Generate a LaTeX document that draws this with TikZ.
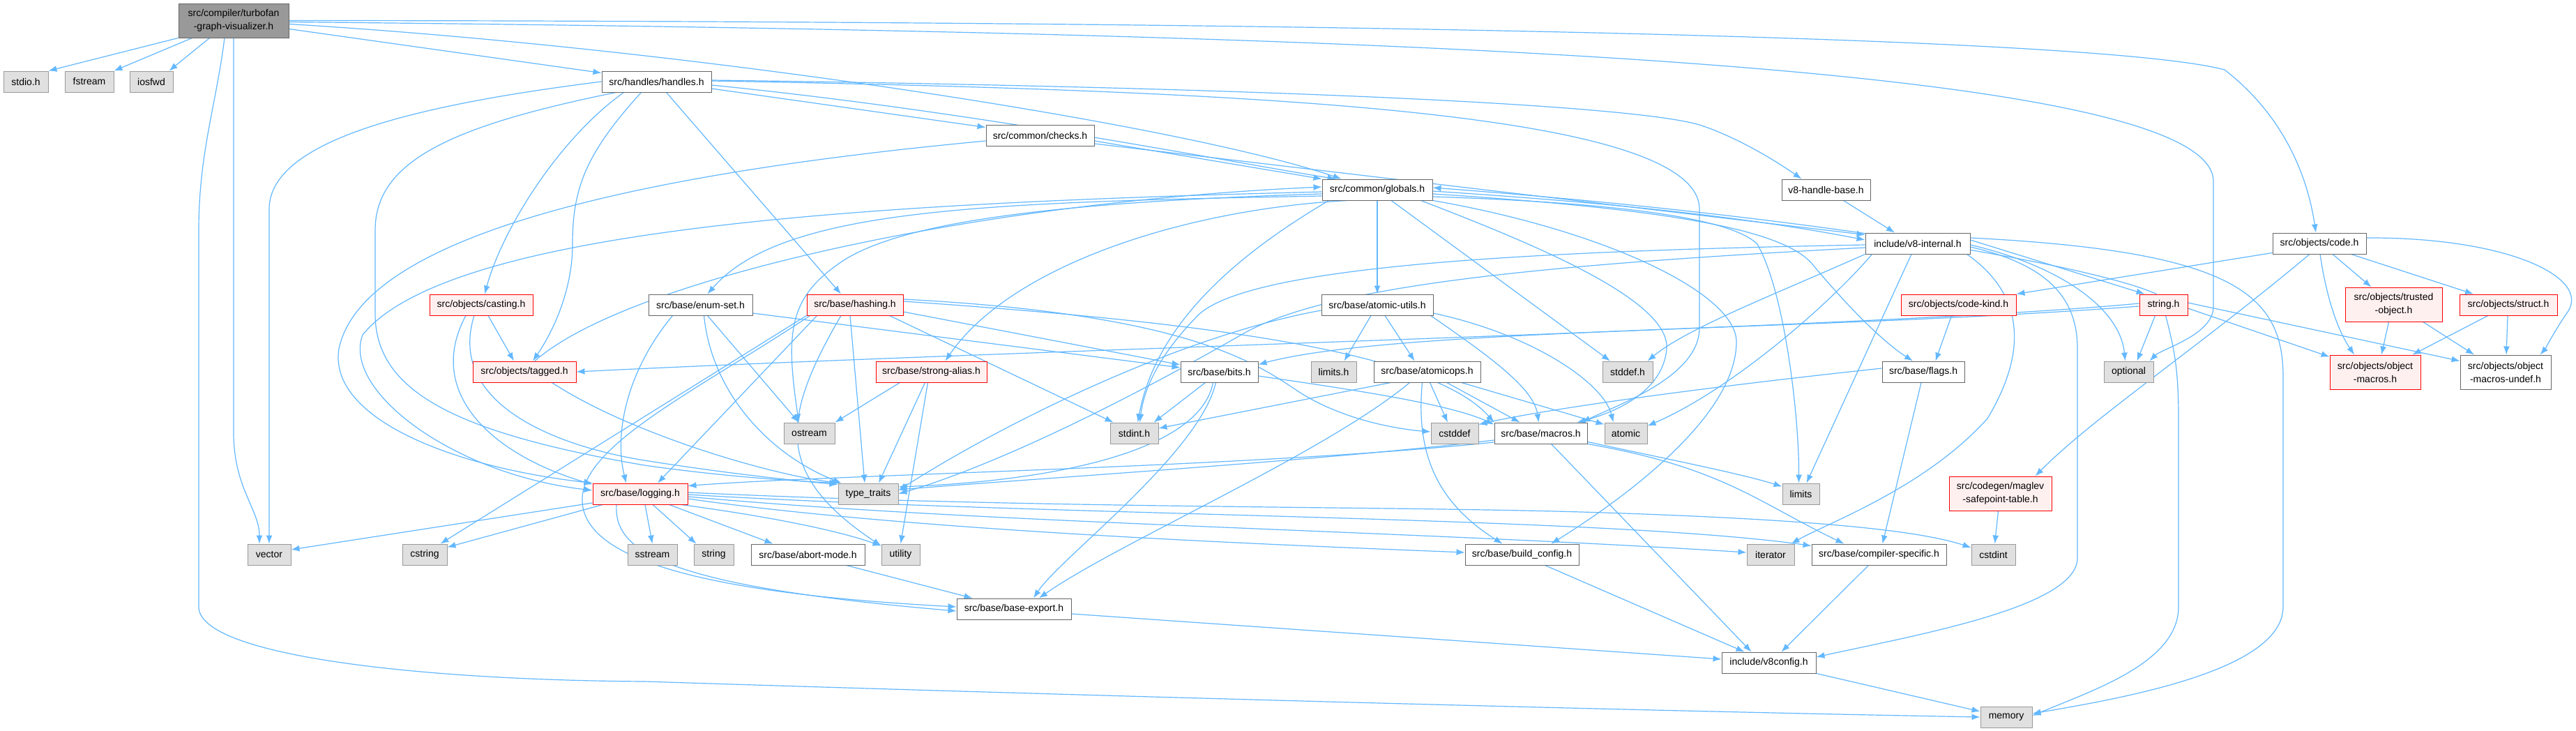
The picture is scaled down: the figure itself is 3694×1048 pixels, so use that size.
\documentclass[tikz,border=0pt]{standalone}
\usepackage{fontspec}
\setmainfont{Liberation Sans}
\usetikzlibrary{arrows.meta,calc}
\pgfdeclarelayer{bg}
\pgfsetlayers{bg,main}
\definecolor{edgec}{HTML}{63B8FF}
\definecolor{gfill}{HTML}{E0E0E0}
\definecolor{gdraw}{HTML}{999999}
\definecolor{rfill}{HTML}{FFF0F0}
\definecolor{rdraw}{HTML}{FF0000}
\definecolor{wdraw}{HTML}{666666}
\definecolor{topfill}{HTML}{999999}
\newcommand\nd[7]{\node[#1, minimum width={(#5-#3)*0.5pt}, minimum height={(#6-#4)*0.5pt}] (#2) at ({(#3+#5)/2},{(#4+#6)/2}) {#7};}
\tikzset{
  basebox/.style={rectangle, inner sep=0pt, align=center, line width=0.45pt, font=\fontsize{7}{9.5}\selectfont},
  wbox/.style={basebox, draw=wdraw, fill=white},
  gbox/.style={basebox, draw=gdraw, fill=gfill},
  rbox/.style={basebox, draw=rdraw, fill=rfill},
  topbox/.style={basebox, draw=wdraw, fill=topfill},
  e/.style={draw=edgec, line width=0.6pt, -{Latex[length=6pt,width=4.5pt]}}
}
\begin{document}
\begin{tikzpicture}[x=0.5pt,y=-0.5pt]
\useasboundingbox (0,0) rectangle (3694,1048);
% nodes
\nd{topbox}{top}{256}{5}{414}{54}{src/compiler/turbofan\\-graph-visualizer.h}
\nd{gbox}{stdio}{5}{102}{69}{132}{stdio.h}
\nd{gbox}{fstream}{93}{102}{163}{132}{fstream}
\nd{gbox}{iosfwd}{186}{102}{248}{132}{iosfwd}
\nd{wbox}{handles}{863}{102}{1020}{132}{src/handles/handles.h}
\nd{wbox}{checks}{1414}{179}{1569}{209}{src/common/checks.h}
\nd{wbox}{globals}{1896}{257}{2054}{287}{src/common/globals.h}
\nd{wbox}{v8hb}{2555}{257}{2682}{287}{v8-handle-base.h}
\nd{wbox}{v8int}{2675}{334}{2825}{364}{include/v8-internal.h}
\nd{wbox}{code}{3259}{334}{3393}{364}{src/objects/code.h}
\nd{rbox}{casting}{616}{422}{764}{452}{src/objects/casting.h}
\nd{wbox}{enumset}{930}{422}{1079}{452}{src/base/enum-set.h}
\nd{rbox}{hashing}{1157}{422}{1295}{452}{src/base/hashing.h}
\nd{wbox}{atomicutils}{1895}{422}{2055}{452}{src/base/atomic-utils.h}
\nd{rbox}{codekind}{2726}{422}{2891}{452}{src/objects/code-kind.h}
\nd{rbox}{stringh}{3068}{422}{3137}{452}{string.h}
\nd{rbox}{trusted}{3363}{412}{3502}{461}{src/objects/trusted\\-object.h}
\nd{rbox}{struct}{3527}{422}{3667}{452}{src/objects/struct.h}
\nd{rbox}{tagged}{678}{518}{826}{548}{src/objects/tagged.h}
\nd{rbox}{strongalias}{1256}{518}{1415}{548}{src/base/strong-alias.h}
\nd{wbox}{bits}{1693}{518}{1804}{548}{src/base/bits.h}
\nd{gbox}{limitsh}{1880}{518}{1945}{548}{limits.h}
\nd{wbox}{atomicops}{1970}{518}{2123}{548}{src/base/atomicops.h}
\nd{gbox}{stddefh}{2298}{518}{2370}{548}{stddef.h}
\nd{wbox}{flags}{2699}{518}{2817}{548}{src/base/flags.h}
\nd{gbox}{optional}{3017}{518}{3088}{548}{optional}
\nd{rbox}{objmacros}{3341}{509}{3471}{558}{src/objects/object\\-macros.h}
\nd{wbox}{undef}{3528}{509}{3658}{558}{src/objects/object\\-macros-undef.h}
\nd{gbox}{ostream}{1124}{606}{1197}{636}{ostream}
\nd{gbox}{stdint}{1592}{606}{1661}{636}{stdint.h}
\nd{gbox}{cstddef}{2052}{606}{2120}{636}{cstddef}
\nd{wbox}{macros}{2143}{606}{2276}{636}{src/base/macros.h}
\nd{gbox}{atomic}{2301}{606}{2362}{636}{atomic}
\nd{rbox}{logging}{850}{693}{986}{723}{src/base/logging.h}
\nd{gbox}{typetraits}{1202}{693}{1288}{723}{type\_traits}
\nd{gbox}{limits}{2556}{693}{2609}{723}{limits}
\nd{rbox}{maglev}{2795}{683}{2942}{732}{src/codegen/maglev\\-safepoint-table.h}
\nd{gbox}{vector}{355}{780}{417}{810}{vector}
\nd{gbox}{cstring}{577}{780}{641}{810}{cstring}
\nd{gbox}{sstream}{900}{780}{971}{810}{sstream}
\nd{gbox}{string}{995}{780}{1052}{810}{string}
\nd{wbox}{abort}{1077}{780}{1240}{810}{src/base/abort-mode.h}
\nd{gbox}{utility}{1264}{780}{1319}{810}{utility}
\nd{wbox}{buildconfig}{2101}{780}{2264}{810}{src/base/build\_config.h}
\nd{gbox}{iterator}{2505}{780}{2573}{810}{iterator}
\nd{wbox}{compspec}{2598}{780}{2791}{810}{src/base/compiler-specific.h}
\nd{gbox}{cstdint}{2827}{780}{2890}{810}{cstdint}
\nd{wbox}{baseexport}{1372}{858}{1536}{888}{src/base/base-export.h}
\nd{wbox}{v8config}{2469}{935}{2604}{965}{include/v8config.h}
\nd{gbox}{memory}{2840}{1013}{2914}{1043}{memory}
\begin{pgfonlayer}{bg}
\fill[white] (0,0) rectangle (3694,1048);
% top node
\draw[e] (top.south west) -- (stdio.north east);
\draw[e] ($(top.south west)+(20,0)$) -- (fstream.north east);
\draw[e] ($(top.south west)+(45,0)$) -- ($(iosfwd.north east)+(-6,0)$);
\draw[e] (top.south) -- (335,620) .. controls (335,700) and (372,730) .. ($(vector.north)+(-14,0)$);
\draw[e] ($(top.south)+(-13,0)$) .. controls (310,150) and (285,220) .. (285,330) -- (285,870) .. controls (285,940) and (600,975) .. (924,977) .. controls (1800,1005) and (2500,1022) .. (memory.west);
\draw[e] ($(top.east)+(0,12)$) -- ($(handles.north west)+(0,3)$);
\draw[e] ($(top.east)+(0,5)$) .. controls (1000,70) and (1700,180) .. ($(globals.north west)+(28,0)$);
\draw[e] ($(top.east)+(0,2)$) .. controls (1800,45) and (3174,80) .. (3174,260) -- (3174,440) .. controls (3174,480) and (3100,500) .. ($(optional.north east)+(-6,0)$);
\draw[e] (top.east) .. controls (1800,30) and (3000,50) .. (3190,100) .. controls (3280,170) and (3310,260) .. ($(code.north)+(-5,0)$);
% handles
\draw[e] ($(handles.east)+(0,10)$) -- ($(checks.north west)+(0,4)$);
\draw[e] ($(handles.east)+(0,5)$) .. controls (1400,160) and (1750,230) .. ($(globals.north west)+(20,0)$);
\draw[e] ($(handles.east)+(0,-2)$) .. controls (1800,125) and (2350,150) .. (2440,180) .. controls (2500,200) and (2560,240) .. ($(v8hb.north)+(-35,0)$);
\draw[e] ($(handles.east)+(0,-1)$) .. controls (1800,130) and (2437,160) .. (2437,300) -- (2437,470) .. controls (2437,540) and (2320,580) .. ($(macros.north east)+(-8,0)$);
\draw[e] ($(handles.south)+(14,0)$) -- ($(hashing.north)+(-20,0)$);
\draw[e] ($(handles.south west)+(32,0)$) .. controls (800,200) and (720,330) .. ($(casting.north)+(5,0)$);
\draw[e] ($(handles.south)+(-22,0)$) .. controls (840,220) and (821,270) .. (821,350) .. controls (821,420) and (790,480) .. ($(tagged.north)+(12,0)$);
\draw[e] ($(handles.south west)+(21,0)$) .. controls (650,180) and (538,230) .. (538,330) -- (538,450) .. controls (538,560) and (650,620) .. (924,667) .. controls (1050,685) and (1150,690) .. (typetraits.north west);
\draw[e] (handles.west) .. controls (600,150) and (386,200) .. (386,300) -- (vector.north);
% checks
\draw[e] ($(checks.east)+(0,8)$) -- (globals.north west);
\draw[e] ($(checks.east)+(0,12)$) -- ($(v8int.north west)+(0,3)$);
\draw[e] ($(checks.west)+(0,8)$) .. controls (900,250) and (520,340) .. (486,500) .. controls (470,600) and (650,670) .. (logging.north west);
% globals
\draw[e] ($(globals.west)+(0,3)$) .. controls (1300,290) and (650,320) .. (520,480) .. controls (490,560) and (650,680) .. ($(logging.west)+(0,-5)$);
\draw[e] ($(globals.west)+(0,6)$) .. controls (1500,290) and (1280,320) .. (1200,380) .. controls (1130,430) and (1127,480) .. ($(ostream.north)+(-15,0)$);
\draw[e] ($(globals.west)+(0,9)$) .. controls (1400,290) and (1120,300) .. ($(enumset.north)+(10,0)$);
\draw[e] ($(globals.south west)+(37,0)$) .. controls (1700,300) and (1450,380) .. ($(strongalias.north)+(20,0)$);
\draw[e] ($(globals.south west)+(10,0)$) .. controls (1800,350) and (1660,450) .. ($(stdint.north)+(5,0)$);
\draw[e] (globals) -- (atomicutils);
\draw[e] ($(globals.south)+(20,0)$) -- ($(stddefh.north)+(-25,0)$);
\draw[e] ($(globals.south east)+(-17,0)$) .. controls (2200,350) and (2395,430) .. (2390,500) .. controls (2385,560) and (2320,590) .. ($(macros.north east)+(-15,0)$);
\draw[e] (globals.south east) .. controls (2300,330) and (2490,420) .. (2490,490) .. controls (2490,600) and (2320,720) .. ($(buildconfig.north east)+(-40,0)$);
\draw[e] ($(globals.east)+(0,10)$) .. controls (2300,290) and (2480,310) .. (2520,350) .. controls (2560,420) and (2580,600) .. ($(limits.north)+(-3,0)$);
\draw[e] ($(globals.east)+(0,6)$) .. controls (2400,300) and (2560,330) .. (2600,380) .. controls (2650,440) and (2700,490) .. ($(flags.north)+(-15,0)$);
\draw[e] ($(globals.east)+(0,2)$) .. controls (2300,290) and (2500,310) .. ($(v8int.west)+(0,-5)$);
\draw[e] ($(tagged.north)+(15,0)$) .. controls (900,400) and (1400,290) .. ($(globals.west)+(0,-4)$);
\draw[e] ($(stringh.north)+(-10,0)$) .. controls (3000,380) and (2600,310) .. ($(globals.east)+(0,-3)$);
% v8-handle-base / v8-internal
\draw[e] ($(v8hb.south)+(25,0)$) -- ($(v8int.north)+(-33,0)$);
\draw[e] ($(v8int.east)+(0,-5)$) -- ($(stringh.north west)+(8,0)$);
\draw[e] ($(v8int.east)+(0,2)$) .. controls (2950,380) and (3040,440) .. ($(optional.north)+(-5,0)$);
\draw[e] ($(v8int.east)+(0,-8)$) .. controls (3200,360) and (3274,420) .. (3274,540) -- (3274,870) .. controls (3274,960) and (3050,1000) .. ($(memory.east)+(0,-5)$);
\draw[e] ($(v8int.east)+(0,5)$) .. controls (2940,380) and (2979,430) .. (2979,500) -- (2979,800) .. controls (2979,870) and (2750,910) .. ($(v8config.east)+(0,-8)$);
\draw[e] ($(v8int.south east)+(-5,0)$) .. controls (2900,420) and (2910,500) .. (2850,600) .. controls (2760,700) and (2620,750) .. ($(iterator.north east)+(-5,0)$);
\draw[e] ($(v8int.south)+(-9,0)$) -- ($(limits.north)+(8,0)$);
\draw[e] ($(v8int.south west)+(10,0)$) .. controls (2620,440) and (2480,560) .. ($(atomic.north east)+(0,5)$);
\draw[e] (v8int.south west) .. controls (2550,420) and (2420,470) .. ($(stddefh.north east)+(-8,0)$);
\draw[e] ($(v8int.west)+(0,2)$) .. controls (2200,360) and (1800,380) .. (1720,450) .. controls (1660,510) and (1640,560) .. ($(stdint.north)+(8,0)$);
\draw[e] ($(v8int.west)+(0,6)$) .. controls (2200,380) and (1900,410) .. (1780,480) .. controls (1500,640) and (1350,690) .. (typetraits.east);
% string.h
\draw[e] ($(stringh.south)+(3,0)$) .. controls (3118,500) and (3124,530) .. (3124,600) -- (3124,870) .. controls (3124,950) and (3000,990) .. ($(memory.east)+(0,-2)$);
\draw[e] ($(stringh.south)+(-12,0)$) -- ($(optional.north)+(12,0)$);
\draw[e] ($(stringh.east)+(0,5)$) -- ($(objmacros.north west)+(0,3)$);
\draw[e] ($(stringh.east)+(0,-3)$) -- ($(undef.west)+(0,-16)$);
\draw[e] ($(stringh.west)+(0,-2)$) .. controls (2700,470) and (1500,500) .. (tagged.east);
\draw[e] ($(stringh.west)+(0,2)$) .. controls (2600,475) and (2000,470) .. ($(bits.north east)+(0,5)$);
% code.h
\draw[e] ($(code.south west)+(0,-2)$) -- (codekind.north east);
\draw[e] ($(code.south)+(-14,0)$) .. controls (3150,500) and (3000,600) .. ($(maglev.north)+(50,0)$);
\draw[e] ($(code.south)+(1,0)$) .. controls (3335,420) and (3350,470) .. ($(objmacros.north)+(-30,0)$);
\draw[e] ($(code.south)+(19,0)$) -- ($(trusted.north)+(-32,0)$);
\draw[e] ($(code.south east)+(-22,0)$) -- ($(struct.north)+(-50,0)$);
\draw[e] ($(code.east)+(0,-8)$) .. controls (3600,340) and (3720,400) .. (3680,450) .. controls (3660,480) and (3650,500) .. ($(undef.north east)+(-16,0)$);
\draw[e] ($(trusted.south)+(-7,0)$) -- ($(objmacros.north)+(9,0)$);
\draw[e] ($(trusted.south east)+(-28,0)$) -- ($(undef.north)+(-45,0)$);
\draw[e] ($(struct.south)+(-29,0)$) -- ($(objmacros.north east)+(-12,0)$);
\draw[e] ($(struct.south)+(-1,0)$) -- ($(undef.north)+(1,0)$);
\draw[e] ($(codekind.south west)+(73,0)$) -- ($(flags.north east)+(-42,0)$);
\draw[e] ($(maglev.south)+(-3,0)$) -- ($(cstdint.north)+(2,0)$);
% flags
\draw[e] ($(flags.west)+(0,-5)$) .. controls (2400,560) and (2200,590) .. ($(cstddef.north east)+(0,3)$);
\draw[e] ($(flags.south)+(-3,0)$) -- ($(compspec.north)+(5,0)$);
% atomic-utils
\draw[e] ($(atomicutils.south)+(-9,0)$) -- ($(limitsh.north)+(15,0)$);
\draw[e] ($(atomicutils.south)+(11,0)$) -- ($(atomicops.north)+(-18,0)$);
\draw[e] ($(atomicutils.south east)+(-4,0)$) .. controls (2150,520) and (2200,560) .. ($(macros.north)+(-3,0)$);
\draw[e] ($(atomicutils.east)+(0,12)$) .. controls (2200,480) and (2300,550) .. ($(atomic.north)+(-18,0)$);
\draw[e] ($(atomicutils.west)+(0,8)$) .. controls (1700,480) and (1450,600) .. ($(typetraits.east)+(0,-5)$);
% atomicops
\draw[e] ($(atomicops.south west)+(25,0)$) -- ($(stdint.east)+(0,-7)$);
\draw[e] ($(atomicops.south west)+(52,0)$) .. controls (1900,650) and (1600,780) .. ($(baseexport.north)+(36,0)$);
\draw[e] ($(atomicops.south)+(-7,0)$) .. controls (2030,650) and (2060,720) .. ($(buildconfig.north)+(-28,0)$);
\draw[e] ($(atomicops.south)+(4,0)$) -- ($(cstddef.north)+(-10,0)$);
\draw[e] ($(atomicops.south)+(28,0)$) -- ($(macros.north)+(-30,0)$);
\draw[e] ($(atomicops.south east)+(-28,0)$) -- ($(atomic.north west)+(0,3)$);
% bits
\draw[e] ($(bits.south)+(-20,0)$) -- ($(stdint.north)+(28,0)$);
\draw[e] ($(bits.south)+(-9,0)$) .. controls (1720,650) and (1500,690) .. ($(typetraits.east)+(0,-10)$);
\draw[e] ($(bits.south)+(-5,0)$) .. controls (1720,650) and (1520,800) .. ($(baseexport.north)+(28,0)$);
\draw[e] ($(bits.east)+(0,6)$) .. controls (1950,560) and (2080,580) .. ($(macros.north west)+(0,3)$);
% macros
\draw[e] ($(macros.west)+(0,10)$) .. controls (1900,660) and (1500,685) .. ($(typetraits.east)+(0,-6)$);
\draw[e] ($(macros.west)+(0,13)$) .. controls (1800,670) and (1200,680) .. ($(logging.north east)+(0,4)$);
\draw[e] ($(macros.south)+(15,0)$) -- ($(v8config.north)+(-25,0)$);
\draw[e] ($(macros.south east)+(0,-3)$) .. controls (2400,660) and (2500,680) .. ($(limits.north west)+(0,5)$);
\draw[e] (macros.south east) .. controls (2470,670) and (2520,720) .. ($(compspec.north)+(-50,0)$);
% enum-set
\draw[e] ($(enumset.south)+(10,0)$) -- ($(ostream.north)+(-15,0)$);
\draw[e] ($(enumset.south)+(5,0)$) .. controls (1020,560) and (1100,650) .. ($(typetraits.north west)+(5,0)$);
\draw[e] ($(enumset.east)+(0,12)$) -- ($(bits.west)+(0,-6)$);
\draw[e] ($(enumset.south west)+(35,0)$) .. controls (900,530) and (880,620) .. ($(logging.north)+(-20,0)$);
% hashing
\draw[e] ($(hashing.east)+(0,10)$) -- ($(bits.west)+(0,-10)$);
\draw[e] ($(hashing.south east)+(-20,0)$) -- ($(stdint.north west)+(5,0)$);
\draw[e] ($(hashing.east)+(0,-5)$) .. controls (1700,460) and (2050,500) .. (macros.north west);
\draw[e] ($(hashing.east)+(0,-8)$) .. controls (1700,450) and (1800,520) .. (1860,560) .. controls (1920,600) and (2000,615) .. ($(cstddef.west)+(0,-2)$);
\draw[e] ($(hashing.south)+(-7,0)$) -- ($(typetraits.north)+(-5,0)$);
\draw[e] ($(hashing.south)+(-20,0)$) .. controls (1120,600) and (1110,680) .. ($(utility.north west)+(0,3)$);
\draw[e] ($(hashing.south west)+(5,0)$) .. controls (1000,560) and (830,640) .. (835,720) .. controls (840,800) and (1000,850) .. ($(baseexport.west)+(0,-3)$);
\draw[e] ($(hashing.south west)+(15,0)$) -- ($(logging.north)+(25,0)$);
\draw[e] (hashing.south west) -- ($(cstring.north east)+(-10,0)$);
% strong-alias
\draw[e] ($(strongalias.south)+(-45,0)$) -- (ostream.north east);
\draw[e] ($(strongalias.south)+(-9,0)$) -- ($(typetraits.north)+(15,0)$);
\draw[e] ($(strongalias.south)+(-5,0)$) -- (utility.north);
% casting / tagged
\draw[e] ($(casting.south)+(10,0)$) -- ($(tagged.north)+(-15,0)$);
\draw[e] ($(casting.south)+(-22,0)$) .. controls (610,560) and (700,650) .. ($(logging.north west)+(0,2)$);
\draw[e] ($(casting.south)+(-10,0)$) .. controls (640,580) and (800,640) .. (924,660) .. controls (1050,680) and (1150,690) .. ($(typetraits.north west)+(0,2)$);
\draw[e] ($(tagged.south east)+(-35,0)$) .. controls (900,620) and (1100,680) .. ($(typetraits.north west)+(3,0)$);
% logging
\draw[e] ($(logging.west)+(0,13)$) -- ($(vector.east)+(0,-7)$);
\draw[e] ($(logging.south west)+(15,0)$) -- ($(cstring.north east)+(0,5)$);
\draw[e] ($(logging.south)+(7,0)$) -- (sstream.north);
\draw[e] ($(logging.south)+(18,0)$) -- ($(string.north)+(-25,0)$);
\draw[e] ($(logging.south east)+(-27,0)$) -- ($(abort.north)+(-50,0)$);
\draw[e] ($(logging.south east)+(-10,0)$) .. controls (1100,740) and (1200,760) .. ($(utility.north west)+(0,3)$);
\draw[e] ($(logging.south)+(-34,0)$) .. controls (880,790) and (950,840) .. ($(baseexport.west)+(0,3)$);
\draw[e] ($(logging.east)+(0,7)$) .. controls (1300,760) and (1800,780) .. ($(buildconfig.west)+(0,-3)$);
\draw[e] ($(logging.east)+(0,4)$) .. controls (1400,750) and (2000,760) .. ($(iterator.west)+(0,-3)$);
\draw[e] ($(logging.east)+(0,1)$) .. controls (1500,740) and (2300,740) .. ($(compspec.north west)+(0,3)$);
\draw[e] ($(logging.east)+(0,-2)$) .. controls (1500,730) and (2000,725) .. (2300,735) .. controls (2600,745) and (2750,760) .. ($(cstdint.west)+(0,-10)$);
% lower
\draw[e] ($(abort.south)+(55,0)$) -- ($(baseexport.north west)+(23,0)$);
\draw[e] ($(baseexport.east)+(0,7)$) -- ($(v8config.west)+(0,-5)$);
\draw[e] ($(buildconfig.south)+(33,0)$) -- ($(v8config.north west)+(33,0)$);
\draw[e] ($(compspec.south)+(-15,0)$) -- ($(v8config.north)+(18,0)$);
\draw[e] (v8config.south east) -- ($(memory.west)+(0,-8)$);
\end{pgfonlayer}
\end{tikzpicture}
\end{document}
